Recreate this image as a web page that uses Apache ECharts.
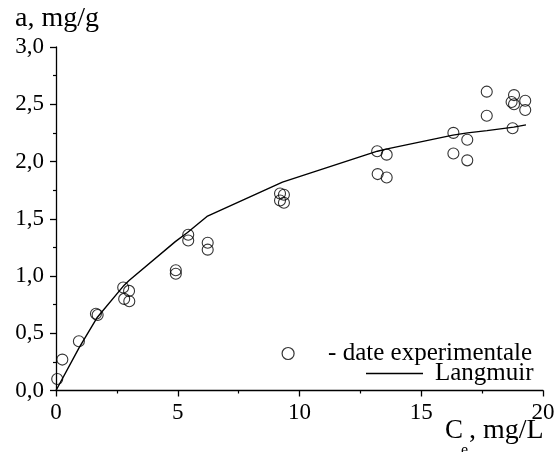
<!DOCTYPE html>
<html>
<head>
<meta charset="utf-8">
<script src="https://cdn.jsdelivr.net/npm/echarts@6/dist/echarts.min.js"></script>
<style>
  html, body { margin: 0; padding: 0; background: #fff; }
  #chart { width: 559px; height: 452px; }
</style>
</head>
<body>
<div id="chart"></div>
<script>
// Experimental adsorption points: equilibrium concentration (mg/L) and uptake (mg/g)
const expX = [0.05, 0.26, 0.94, 1.64, 1.71, 2.76, 3.00, 2.80, 3.01, 4.92, 4.92, 5.43, 5.43, 6.23, 6.23,
              9.20, 9.36, 9.20, 9.36, 13.19, 13.58, 13.21, 13.58, 16.32, 16.89, 16.32, 16.89,
              17.69, 17.69, 18.81, 18.71, 18.81, 19.27, 19.27, 18.75];
const expY = [0.10, 0.27, 0.43, 0.67, 0.66, 0.90, 0.87, 0.80, 0.78, 1.05, 1.02, 1.36, 1.31, 1.29, 1.23,
              1.72, 1.71, 1.66, 1.64, 2.09, 2.06, 1.89, 1.86, 2.25, 2.19, 2.07, 2.01,
              2.61, 2.40, 2.58, 2.52, 2.50, 2.53, 2.45, 2.29];

// Langmuir fitted curve
const langX = [0, 0.94, 1.7, 2.8, 3.0, 4.9, 5.4, 6.2, 9.3, 13.2, 13.6, 16.3, 16.9, 17.7, 18.8, 19.3];
const langY = [0, 0.37, 0.64, 0.92, 0.96, 1.30, 1.38, 1.52, 1.82, 2.09, 2.11, 2.23, 2.25, 2.27, 2.30, 2.32];

// Axis settings
const xMin = 0, xMax = 20, xStep = 5;
const yMin = 0, yMax = 3, yStep = 0.5;

const seriesNames = ['- date experimentale', 'Langmuir'];

const FONT = '"Liberation Serif", "Times New Roman", serif';

const expData = expX.map((x, i) => [x, expY[i]]);
const langData = langX.map((x, i) => [x, langY[i]]);

const chart = echarts.init(document.getElementById('chart'), null, { renderer: 'canvas' });

const axisCommon = {
  axisLine: { show: true, onZero: false, lineStyle: { color: '#000', width: 1.3 } },
  axisTick: { show: true, inside: false, length: 6, lineStyle: { color: '#000', width: 1.3 } },
  minorTick: { show: true, splitNumber: 2, length: 3, lineStyle: { color: '#000', width: 1.2 } },
  splitLine: { show: false },
  minorSplitLine: { show: false }
};

chart.setOption({
  backgroundColor: '#fff',
  animation: false,
  grid: { left: 56, right: 16, top: 47, bottom: 61.5, containLabel: false },
  xAxis: Object.assign({
    type: 'value', min: xMin, max: xMax, interval: xStep,
    axisLabel: {
      color: '#000', fontFamily: FONT, fontSize: 23, margin: 11,
      formatter: v => String(v)
    }
  }, axisCommon),
  yAxis: Object.assign({
    type: 'value', min: yMin, max: yMax, interval: yStep,
    axisLabel: {
      color: '#000', fontFamily: FONT, fontSize: 23, margin: 12,
      formatter: v => v.toFixed(1).replace('.', ',')
    }
  }, axisCommon),
  legend: [
    {
      data: [{ name: seriesNames[0], icon: 'circle' }],
      left: 281.5, top: 341,
      itemWidth: 12, itemHeight: 12,
      itemGap: 0, padding: 0,
      itemStyle: { color: 'rgba(255,255,255,0)', borderColor: '#000', borderWidth: 1.2 },
      textStyle: { color: '#000', fontFamily: FONT, fontSize: 25, padding: [0, 0, 0, 29] },
      selectedMode: false
    },
    {
      data: [{ name: seriesNames[1], icon: 'rect' }],
      left: 366, top: 361,
      itemWidth: 57, itemHeight: 1.4,
      itemGap: 0, padding: 0,
      itemStyle: { color: '#000', borderWidth: 0 },
      textStyle: { color: '#000', fontFamily: FONT, fontSize: 25, padding: [0, 0, 0, 7] },
      selectedMode: false
    }
  ],
  graphic: [
    {
      type: 'text', left: 15, top: 5,
      style: { text: 'a, mg/g', fill: '#000', font: '28px ' + FONT }
    },
    {
      type: 'text', left: 445, top: 417,
      style: { text: 'C', fill: '#000', font: '27px ' + FONT }
    },
    {
      type: 'text', left: 461, top: 443,
      style: { text: 'e', fill: '#000', font: '16px ' + FONT }
    },
    {
      type: 'text', left: 469, top: 417,
      style: { text: ', mg/L', fill: '#000', font: '28px ' + FONT }
    }
  ],
  series: [
    {
      name: seriesNames[0],
      type: 'scatter',
      data: expData,
      symbol: 'circle',
      symbolSize: 11,
      itemStyle: { color: 'rgba(255,255,255,0)', borderColor: '#000', borderWidth: 1.1 },
      z: 3
    },
    {
      name: seriesNames[1],
      type: 'line',
      data: langData,
      symbol: 'none',
      smooth: false,
      lineStyle: { color: '#000', width: 1.4 },
      itemStyle: { color: '#000' },
      z: 2
    }
  ]
});
</script>
</body>
</html>
